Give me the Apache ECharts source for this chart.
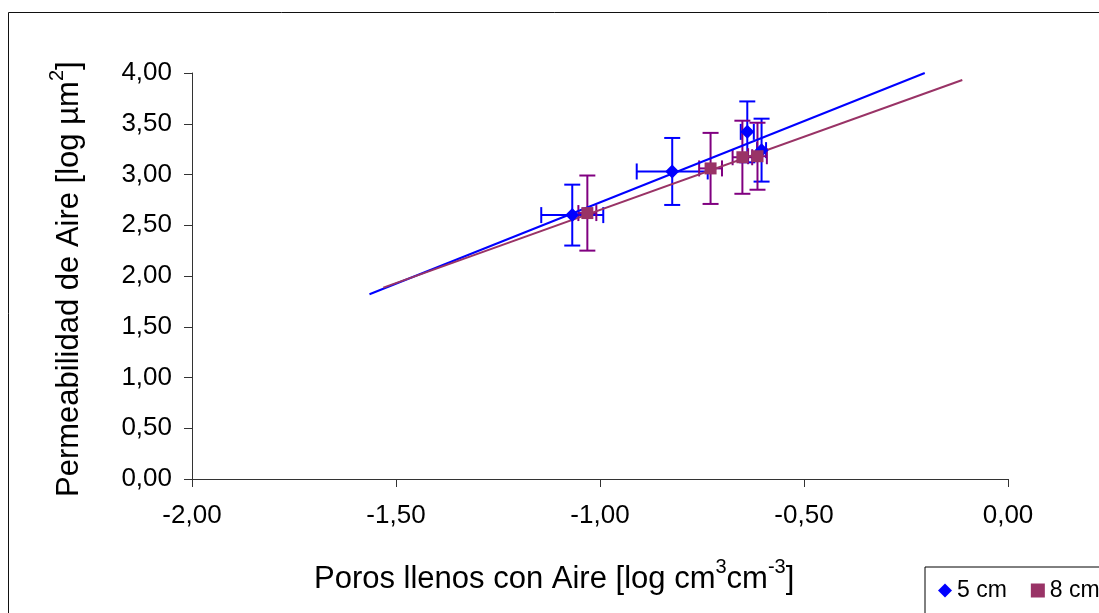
<!DOCTYPE html>
<html>
<head>
<meta charset="utf-8">
<script src="https://cdn.jsdelivr.net/npm/echarts@6/dist/echarts.min.js"></script>
<style>
  html, body { margin: 0; padding: 0; background: #fff; }
  #chart { width: 1099px; height: 613px; }
</style>
</head>
<body>
<div id="chart"></div>
<script>
// Air-filled pores vs. air permeability, two sampling depths
const seriesNames = ['5 cm', '8 cm'];

// 5 cm samples: mean, horizontal and vertical error half-widths
const x5 = [-1.068, -0.823, -0.639, -0.604];
const y5 = [2.60, 3.03, 3.42, 3.24];
const xErr5 = [0.076, 0.087, 0.016, 0.011];
const yErr5 = [0.30, 0.33, 0.30, 0.31];

// 8 cm samples
const x8 = [-1.031, -0.729, -0.651, -0.614];
const y8 = [2.62, 3.06, 3.17, 3.18];
const xErr8 = [0.022, 0.028, 0.024, 0.023];
const yErr8 = [0.37, 0.35, 0.36, 0.33];

// linear trend lines (start and end points)
const trendX5 = [-1.565, -0.204];
const trendY5 = [1.820, 4.00];
const trendX8 = [-1.531, -0.112];
const trendY8 = [1.885, 3.931];

// axis ticks
const xTicks = { min: -2, max: 0, step: 0.5 };
const yTicks = { min: 0, max: 4, step: 0.5 };

// axis titles: [text, superscript?]
const xTitleParts = [['Poros llenos con Aire [log cm', false], ['3', true], ['cm', false], ['-3', true], [']', false]];
const yTitleParts = [['Permeabilidad de Aire [log \u00b5m', false], ['2', true], [']', false]];

const FONT = 'Liberation Sans, Arial, sans-serif';
const BLUE = '#0000FF';
const PLUM = '#993366';
const PURPLE = '#800080';
const TITLE_SIZE = 31;
const SUP_SIZE = 20;
const SUP_RAISE = 7;

const fmt = v => v.toFixed(2).replace('.', ',');
const zip = (...cols) => cols[0].map((_, i) => cols.map(c => c[i]));

const measureCtx = document.createElement('canvas').getContext('2d');
function textWidth(text, size) {
  measureCtx.font = size + 'px ' + FONT;
  return measureCtx.measureText(text).width;
}

// lays out title pieces side by side, superscripts smaller and raised
function titleChildren(parts) {
  let x = 0;
  return parts.map(([text, sup]) => {
    const size = sup ? SUP_SIZE : TITLE_SIZE;
    const el = {
      type: 'text', x: x, y: sup ? -SUP_RAISE : 0, silent: true,
      style: { text: text, fontSize: size, fontFamily: FONT, fill: '#000', align: 'left', verticalAlign: 'top' }
    };
    x += textWidth(text, size);
    return el;
  });
}

function errorBars(color) {
  return function (params, api) {
    const x = api.value(0), y = api.value(1), ex = api.value(2), ey = api.value(3);
    const top = api.coord([x, y + ey]);
    const bot = api.coord([x, y - ey]);
    const lft = api.coord([x - ex, y]);
    const rgt = api.coord([x + ex, y]);
    const cap = 8;
    const style = { stroke: color, lineWidth: 2 };
    const seg = (x1, y1, x2, y2) => ({ type: 'line', shape: { x1, y1, x2, y2 }, style });
    return {
      type: 'group',
      children: [
        seg(top[0], top[1], bot[0], bot[1]),
        seg(top[0] - cap, top[1], top[0] + cap, top[1]),
        seg(bot[0] - cap, bot[1], bot[0] + cap, bot[1]),
        seg(lft[0], lft[1], rgt[0], rgt[1]),
        seg(lft[0], lft[1] - cap, lft[0], lft[1] + cap),
        seg(rgt[0], rgt[1] - cap, rgt[0], rgt[1] + cap)
      ]
    };
  };
}

const chart = echarts.init(document.getElementById('chart'), null, { renderer: 'canvas' });

const option = {
  backgroundColor: '#fff',
  animation: false,
  textStyle: { fontFamily: FONT },
  grid: { left: 192, top: 73, right: 91, bottom: 134, containLabel: false },
  xAxis: {
    type: 'value',
    min: xTicks.min, max: xTicks.max, interval: xTicks.step,
    splitLine: { show: false },
    axisLine: { onZero: false, lineStyle: { color: '#333', width: 1 } },
    axisTick: { show: true, inside: false, length: 8, lineStyle: { color: '#333' } },
    axisLabel: { fontSize: 26, color: '#000', margin: 24, fontFamily: FONT, formatter: fmt }
  },
  yAxis: {
    type: 'value',
    min: yTicks.min, max: yTicks.max, interval: yTicks.step,
    splitLine: { show: false },
    axisLine: { show: true, onZero: false, lineStyle: { color: '#333', width: 1 } },
    axisTick: { show: true, inside: false, length: 8, lineStyle: { color: '#333' } },
    axisLabel: { fontSize: 26, color: '#000', margin: 20, fontFamily: FONT, formatter: fmt }
  },
  legend: {
    data: [
      { name: seriesNames[0], icon: 'diamond' },
      { name: seriesNames[1], icon: 'rect' }
    ],
    left: 925, top: 567, width: 260,
    orient: 'horizontal',
    padding: [12, 13, 12, 13],
    itemGap: 24,
    itemWidth: 14, itemHeight: 14,
    borderColor: '#000', borderWidth: 1,
    backgroundColor: '#fff',
    textStyle: { fontSize: 23, color: '#000', fontFamily: FONT }
  },
  graphic: [
    {
      type: 'rect', silent: true, z: -10,
      shape: { x: 8.5, y: 12.5, width: 1200, height: 800 },
      style: { fill: 'none', stroke: '#111', lineWidth: 1 }
    },
    {
      type: 'group', x: 314, y: 564, silent: true,
      children: titleChildren(xTitleParts)
    },
    {
      type: 'group', x: 54, y: 497, rotation: Math.PI / 2, silent: true,
      children: titleChildren(yTitleParts)
    }
  ],
  series: [
    {
      name: 'err5', type: 'custom', z: 2,
      renderItem: errorBars(BLUE),
      data: zip(x5, y5, xErr5, yErr5),
      encode: { x: 0, y: 1 }
    },
    {
      name: 'err8', type: 'custom', z: 2,
      renderItem: errorBars(PURPLE),
      data: zip(x8, y8, xErr8, yErr8),
      encode: { x: 0, y: 1 }
    },
    {
      name: 'trend5', type: 'line', z: 3, symbol: 'none', clip: true,
      lineStyle: { color: BLUE, width: 2 },
      itemStyle: { color: BLUE },
      data: zip(trendX5, trendY5)
    },
    {
      name: 'trend8', type: 'line', z: 3, symbol: 'none', clip: true,
      lineStyle: { color: PLUM, width: 2 },
      itemStyle: { color: PLUM },
      data: zip(trendX8, trendY8)
    },
    {
      name: seriesNames[0], type: 'scatter', z: 4,
      symbol: 'diamond', symbolSize: 14,
      itemStyle: { color: BLUE, opacity: 1 },
      data: zip(x5, y5)
    },
    {
      name: seriesNames[1], type: 'scatter', z: 5,
      symbol: 'rect', symbolSize: 12,
      itemStyle: { color: PLUM, opacity: 1 },
      data: zip(x8, y8)
    }
  ]
};

chart.setOption(option);
</script>
</body>
</html>
